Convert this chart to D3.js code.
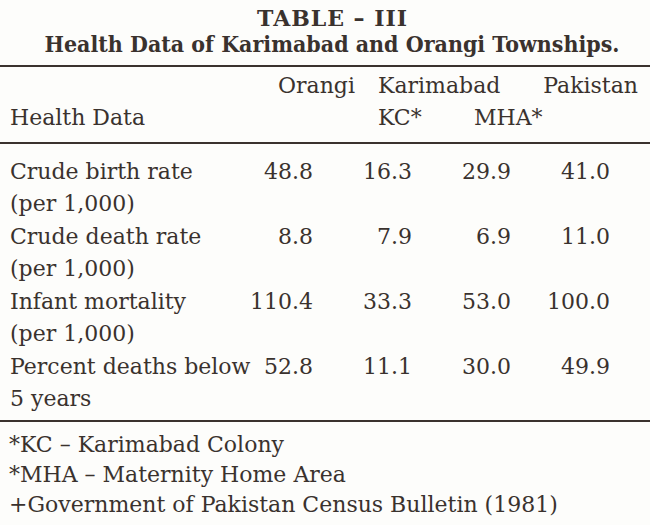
<!DOCTYPE html>
<html>
<head>
<meta charset="utf-8">
<script src="https://cdn.jsdelivr.net/npm/d3@7"></script>
<style>
  html, body { margin: 0; padding: 0; background: #fdfdfb; }
  svg { display: block; }
</style>
</head>
<body>
<svg id="chart" width="650" height="525"></svg>
<script>
// ---- data ----
const title = "TABLE \u2013 III";
const subtitle = "Health Data of Karimabad and Orangi Townships.";
const headerTop = ["Orangi", "Karimabad", "Pakistan"];
const headerBottom = ["Health Data", "KC*", "MHA*"];
const columns = ["Orangi", "KC", "MHA", "Pakistan"];
const categories = ["Crude birth rate", "Crude death rate", "Infant mortality", "Percent deaths below"];
const subLabels = ["(per 1,000)", "(per 1,000)", "(per 1,000)", "5 years"];
const orangi   = [48.8, 8.8, 110.4, 52.8];
const kc       = [16.3, 7.9, 33.3, 11.1];
const mha      = [29.9, 6.9, 53.0, 30.0];
const pakistan = [41.0, 11.0, 100.0, 49.9];
const footnotes = ["*KC \u2013 Karimabad Colony", "*MHA \u2013 Maternity Home Area", "+Government of Pakistan Census Bulletin (1981)"];

// ---- drawing ----
const ink = "#3a322e";
const font = "'DejaVu Serif', 'Liberation Serif', serif";
const fs = 22;
const svg = d3.select("#chart");

const series = [orangi, kc, mha, pakistan];
const x = d3.scalePoint().domain(columns).range([313, 610]);
const y = d3.scaleLinear().domain([0, categories.length - 1]).range([179, 374]);
const fmt = d3.format(".1f");

function txt(sel) {
  return sel.attr("font-family", font).attr("fill", ink);
}

// titles
txt(svg.append("text")).attr("x", 332).attr("y", 26).attr("text-anchor", "middle")
  .attr("font-size", 22).attr("font-weight", "bold")
  .attr("textLength", 150).attr("lengthAdjust", "spacing").text(title);
txt(svg.append("text")).attr("x", 332).attr("y", 52).attr("text-anchor", "middle")
  .attr("font-size", 21.5).attr("font-weight", "bold")
  .attr("textLength", 575).attr("lengthAdjust", "spacingAndGlyphs").text(subtitle);

// rules
const rules = [66, 143, 421];
svg.selectAll("line.rule").data(rules).join("line")
  .attr("class", "rule")
  .attr("x1", 0).attr("x2", 650)
  .attr("y1", d => d).attr("y2", d => d)
  .attr("stroke", ink).attr("stroke-width", 2);

// headers
const topX = [278, 378, 638];
const topAnchor = ["start", "start", "end"];
svg.selectAll("text.h1").data(headerTop).join("text").attr("class", "h1")
  .call(txt).attr("font-size", fs)
  .attr("text-anchor", (d, i) => topAnchor[i])
  .attr("x", (d, i) => topX[i]).attr("y", 93).text(d => d);
const botX = [10, 378, 474];
svg.selectAll("text.h2").data(headerBottom).join("text").attr("class", "h2")
  .call(txt).attr("font-size", fs)
  .attr("x", (d, i) => botX[i]).attr("y", 125).text(d => d);

// row labels
svg.selectAll("text.cat").data(categories).join("text").attr("class", "cat")
  .call(txt).attr("font-size", fs)
  .attr("x", 10).attr("y", (d, i) => y(i)).text(d => d);
svg.selectAll("text.sub").data(subLabels).join("text").attr("class", "sub")
  .call(txt).attr("font-size", fs)
  .attr("x", 10).attr("y", (d, i) => y(i) + 32).text(d => d);

// values
columns.forEach((c, ci) => {
  svg.selectAll("text.v" + ci).data(series[ci]).join("text").attr("class", "v" + ci)
    .call(txt).attr("font-size", fs)
    .attr("text-anchor", "end")
    .attr("x", x(c)).attr("y", (d, i) => y(i)).text(d => fmt(d));
});

// footnotes
svg.selectAll("text.fn").data(footnotes).join("text").attr("class", "fn")
  .call(txt).attr("font-size", fs)
  .attr("x", 9).attr("y", (d, i) => 452 + i * 30).text(d => d);
</script>
</body>
</html>
